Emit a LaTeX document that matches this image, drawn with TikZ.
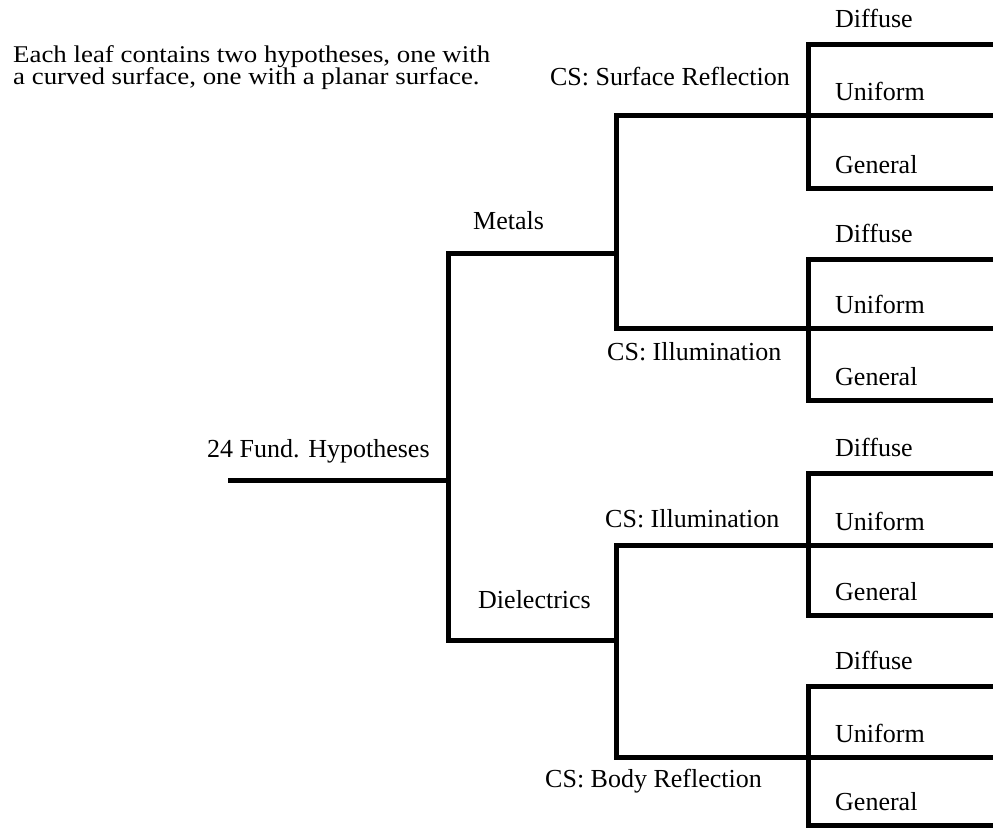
\documentclass[tikz,border=0pt]{standalone}
\usepackage{fontspec}
\setmainfont{Liberation Serif}
\newfontfamily\notefont[FakeStretch=1.12]{Liberation Serif}
\begin{document}
\begin{tikzpicture}[x=1pt,y=-1pt,
  br/.style={line width=5pt, line join=miter, line cap=butt},
  lbl/.style={inner sep=0pt, font=\fontsize{26}{30}\selectfont},
  notelbl/.style={inner sep=0pt, font=\notefont\fontsize{24}{28}\selectfont}]
\useasboundingbox (0,0) rectangle (993,828);
% junction coordinates
\coordinate (root) at (228,480);
\coordinate (rj) at (448,480);
\coordinate (rt) at (448,253);
\coordinate (rb) at (448,640);
\coordinate (mj) at (616,253);
\coordinate (mt) at (616,115);
\coordinate (mb) at (616,328);
\coordinate (dj) at (616,640);
\coordinate (dt) at (616,545);
\coordinate (db) at (616,757);
% leaves: top, mid, bottom
\foreach \n/\T/\M/\B in {1/44/115/188, 2/259/328/400, 3/473/545/615, 4/686/757/825}{
  \coordinate (l\n t) at (808,\T);
  \coordinate (l\n b) at (808,\B);
  \coordinate (e\n t) at (993,\T);
  \coordinate (e\n m) at (993,\M);
  \coordinate (e\n b) at (993,\B);
  \draw[br] (e\n t) -- (l\n t) -- (l\n b) -- (e\n b);
  \node[lbl, anchor=base west] (dif\n) at (835,\T-17) {Diffuse};
  \node[lbl, anchor=base west] (uni\n) at (835,\M-15) {Uniform};
  \node[lbl, anchor=base west] (gen\n) at (835,\B-15) {General};
}
% tree
\draw[br] (root) -- (rj);
\draw[br] (mj) -- (rt) -- (rb) -- (dj);
\draw[br] (e1m) -- (mt) -- (mb) -- (e2m);
\draw[br] (e3m) -- (dt) -- (db) -- (e4m);
% labels
\node[notelbl, anchor=base west] (note1) at (13,62) {Each leaf contains two hypotheses, one with};
\node[notelbl, anchor=base west] (note2) at (13,84) {a curved surface, one with a planar surface.};
\node[lbl, anchor=base west] (fund) at (207,457) {24 Fund. Hypotheses};
\node[lbl, anchor=base west] (metals) at (473,229) {Metals};
\node[lbl, anchor=base west] (diel) at (478,608) {Dielectrics};
\node[lbl, anchor=base east] (surf) at (790,85) {CS: Surface Reflection};
\node[lbl, anchor=base west] (ill1) at (607,360) {CS: Illumination};
\node[lbl, anchor=base west] (ill2) at (605,527) {CS: Illumination};
\node[lbl, anchor=base west] (body) at (545,787) {CS: Body Reflection};
\end{tikzpicture}
\end{document}
